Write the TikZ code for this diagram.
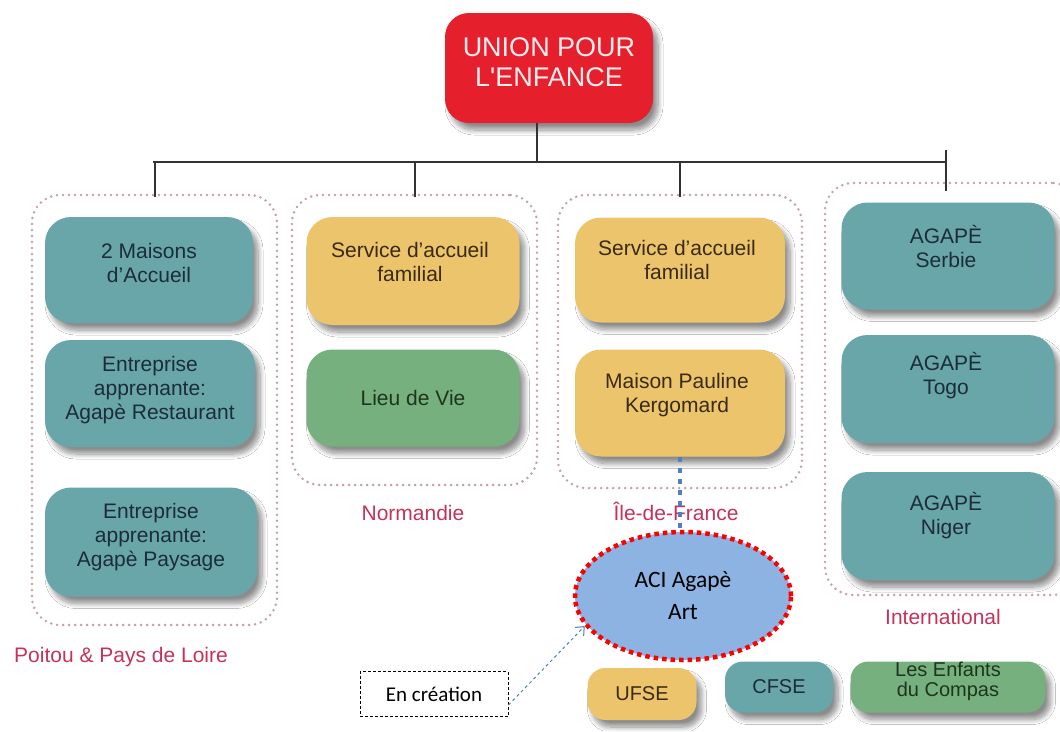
\documentclass[tikz,border=0pt]{standalone}
\usepackage{fontspec}
\setmainfont{Liberation Sans}
\newfontfamily\calib{Carlito}
\usetikzlibrary{shapes.geometric,arrows.meta,shadows.blur,calc}
\definecolor{tealf}{HTML}{68A6AA}
\definecolor{tealt}{HTML}{1C2C3A}
\definecolor{goldf}{HTML}{ECC46C}
\definecolor{goldt}{HTML}{3A2A12}
\definecolor{greenf}{HTML}{76B07F}
\definecolor{greent}{HTML}{1C361E}
\definecolor{redf}{HTML}{E51F2B}
\definecolor{redt}{HTML}{FFECEE}
\definecolor{labc}{HTML}{C6325A}
\definecolor{framec}{HTML}{C4A2AB}
\definecolor{ellf}{HTML}{8DB3E2}
\definecolor{bluec}{HTML}{4F81BD}
\begin{document}
\begin{tikzpicture}[x=1pt,y=-1pt,
  card/.style={draw=none, rounded corners=26pt, inner sep=0pt,
    blur shadow={shadow xshift=5pt, shadow yshift=-7pt, shadow blur radius=5pt, shadow blur steps=10, shadow opacity=45}},
  tealbox/.style={card, fill=tealf},
  goldbox/.style={card, fill=goldf},
  greenbox/.style={card, fill=greenf},
  txt/.style={align=center, inner sep=0pt, font=\fontsize{21}{24}\selectfont},
  frame/.style={draw=framec, line width=2.8pt, dash pattern=on 0pt off 6pt, line cap=round, rounded corners=28pt, inner sep=0pt},
  lab/.style={text=labc, inner sep=0pt, font=\fontsize{21}{24}\selectfont},
  bar/.style={draw=black!80, line width=2pt},
  leg/.style={align=center, inner sep=0pt, font=\fontsize{20}{20}\selectfont},
]
\useasboundingbox (0,0) rectangle (1060,731);
\fill[white] (0,0) rectangle (1060,731);

% group frames
\node[frame, minimum width=245pt, minimum height=430pt] (f1) at (154.5,410) {};
\node[frame, minimum width=245pt, minimum height=290pt] (f2) at (414.5,340) {};
\node[frame, minimum width=244pt, minimum height=293pt] (f3) at (680,341.5) {};
\node[frame, minimum width=255pt, minimum height=412pt] (f4) at (952.5,389) {};

% labels
\node[lab] (l1) at (121,657) {Poitou \& Pays de Loire};
\node[lab] (l2) at (413,513) {Normandie};
\node[lab] (l3) at (676,511) {Île-de-France};
\node[lab] (l4) at (943,617) {International};

% top node
\node[card, fill=redf, rounded corners=24pt, minimum width=208pt, minimum height=110pt] (top) at (549,68) {};
\node[align=center, inner sep=0pt, text=redt, font=\fontsize{27}{30}\selectfont] (ttop) at (549,62) {UNION POUR\\L\textquotesingle ENFANCE};

% tree lines
\coordinate (bus) at (537,162);
\coordinate (busL) at (153,162);
\coordinate (busR) at (946,162);
\draw[bar] (top.south -| bus) -- (bus);
\draw[bar] (busL) -- (busR);
\draw[bar] (f1.north |- bus) -- ([yshift=-3pt]f1.north);
\draw[bar] (f2.north |- bus) -- ([yshift=-3pt]f2.north);
\draw[bar] (f3.north |- bus) -- ([yshift=-3pt]f3.north);
\draw[bar] ([yshift=12pt]busR) -- (busR |- f4.north) -- ++(0,9);

% group 1
\node[tealbox, minimum width=208pt, minimum height=106pt] (b11) at (149,270) {};
\node[txt, text=tealt] (t11) at (149,262.5) {2 Maisons\\d’Accueil};
\node[tealbox, minimum width=210pt, minimum height=107pt] (b12) at (150,393.5) {};
\node[txt, text=tealt] (t12) at (150,390) {Entreprise\\apprenante:\\Agapè Restaurant};
\node[tealbox, minimum width=212pt, minimum height=109pt] (b13) at (151,542) {};
\node[txt, text=tealt] (t13) at (151,537) {Entreprise\\apprenante:\\Agapè Paysage};

% group 2
\node[goldbox, minimum width=213pt, minimum height=108pt] (b21) at (413,271) {};
\node[txt, text=goldt] (t21) at (410,262) {Service d’accueil\\familial};
\node[greenbox, minimum width=213pt, minimum height=97pt] (b22) at (413,398) {};
\node[txt, text=greent] (t22) at (413,398) {Lieu de Vie};

% group 3
\node[goldbox, minimum width=210pt, minimum height=105pt] (b31) at (680,270) {};
\node[txt, text=goldt] (t31) at (677,260) {Service d’accueil\\familial};
\node[goldbox, minimum width=210pt, minimum height=107pt] (b32) at (680,403) {};
\node[txt, text=goldt] (t32) at (677,395) {Maison Pauline\\Kergomard};

% group 4
\node[tealbox, minimum width=213pt, minimum height=107pt] (b41) at (948,256) {};
\node[txt, text=tealt] (t41) at (946,246) {AGAPÈ\\Serbie};
\node[tealbox, minimum width=213pt, minimum height=108pt] (b42) at (948,389) {};
\node[txt, text=tealt] (t42) at (946,376) {AGAPÈ\\Togo};
\node[tealbox, minimum width=213pt, minimum height=108pt] (b43) at (948,526) {};
\node[txt, text=tealt] (t43) at (946,516) {AGAPÈ\\Niger};

% ACI ellipse
\node[ellipse, minimum width=216pt, minimum height=128pt, inner sep=0pt, fill=ellf,
  draw=red, line width=4.5pt, dash pattern=on 4.5pt off 4pt, align=center,
  font=\calib\fontsize{23.5}{32}\selectfont] (ell) at (683,596) {ACI Agapè\\Art};
\draw[bluec, line width=4.5pt, dash pattern=on 5pt off 6pt] (b32.south) -- (b32.south |- ell.north);

% En creation
\node[draw=black, densely dashed, line width=1pt, minimum width=148pt, minimum height=45pt,
  inner sep=0pt, font=\calib\fontsize{21}{22}\selectfont] (enc) at (434,694) {En création};
\draw[bluec, line width=1pt, dashed, -{Straight Barb[length=7pt,width=12pt]}]
  ([yshift=-11pt]enc.east) -- (ell.197);

% legend
\node[goldbox, rounded corners=18pt, minimum width=109pt, minimum height=52pt, leg, text=goldt] (lu) at (642,694) {UFSE};
\node[tealbox, rounded corners=18pt, minimum width=108pt, minimum height=51pt, leg, text=tealt] (lc) at (779,687) {CFSE};
\node[greenbox, rounded corners=18pt, minimum width=195pt, minimum height=51pt] (lg) at (948,687) {};
\node[leg, text=greent] (tlg) at (948,681) {Les Enfants\\du Compas};
\end{tikzpicture}
\end{document}
